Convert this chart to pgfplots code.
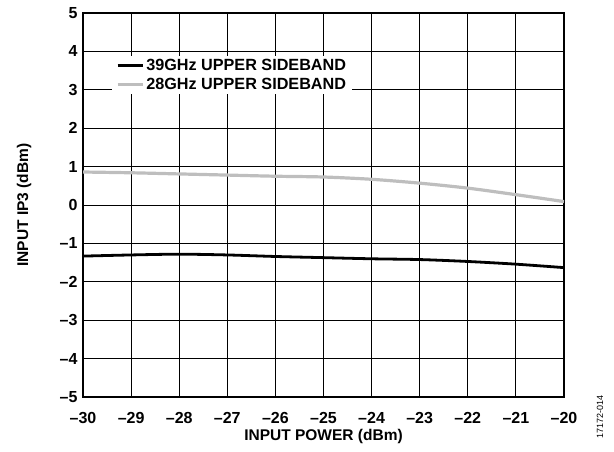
\documentclass[border=0pt]{standalone}
\usepackage{pgfplots}
\pgfplotsset{compat=1.18}
\usepackage{fontspec}
\setmainfont{Liberation Sans}
\definecolor{lgrey}{RGB}{190,190,190}
\begin{document}
\begin{tikzpicture}
\begin{axis}[
  scale only axis, width=481pt, height=384pt,
  xmin=-30, xmax=-20, ymin=-5, ymax=5,
  clip=false,
  xtick={-30,-29,-28,-27,-26,-25,-24,-23,-22,-21,-20},
  ytick={-5,-4,-3,-2,-1,0,1,2,3,4,5},
  xticklabels={–30,–29,–28,–27,–26,–25,–24,–23,–22,–21,–20},
  yticklabels={–5,–4,–3,–2,–1,0,1,2,3,4,5},
  grid=major,
  major grid style={black, line width=0.9pt},
  axis line style={black, line width=1.4pt},
  tick style={draw=none},
  tick label style={font=\fontsize{16}{16}\selectfont\bfseries},
  xticklabel style={yshift=-12pt},
  yticklabel style={xshift=-2pt},
  xlabel={INPUT POWER (dBm)}, ylabel={INPUT IP3 (dBm)},
  label style={font=\fontsize{15.5}{15.5}\selectfont\bfseries},
  xlabel style={at={(axis description cs:0.5,-0.104)}, anchor=center},
  ylabel style={at={(axis description cs:-0.1227,0.5)}, anchor=center},
  legend style={at={(rel axis cs:0.060,0.888)}, anchor=north west,
    draw=none, fill=white, font=\fontsize{16.2}{16.2}\selectfont\bfseries,
    inner xsep=4pt, inner ysep=1pt, row sep=1.8pt,
    /tikz/every odd column/.append style={column sep=0pt}},
  legend cell align=left,
  legend image code/.code={\draw[#1] (0pt,0pt) -- (25pt,0pt);},
]
\addplot[black, line width=2.8pt, smooth] coordinates {
(-30,-1.33) (-29,-1.30) (-28,-1.28) (-27,-1.30) (-26,-1.34) (-25,-1.37)
(-24,-1.40) (-23,-1.42) (-22,-1.47) (-21,-1.54) (-20,-1.63)};
\addlegendentry{39GHz UPPER SIDEBAND}
\addplot[lgrey, line width=3.2pt, smooth] coordinates {
(-30,0.86) (-29,0.84) (-28,0.81) (-27,0.78) (-26,0.75) (-25,0.73)
(-24,0.67) (-23,0.57) (-22,0.44) (-21,0.27) (-20,0.09)};
\addlegendentry{28GHz UPPER SIDEBAND}
\node[rotate=90, font=\fontsize{9}{9}\selectfont] at (rel axis cs:1.075,-0.052) {17172-014};
\coordinate (bl) at (rel axis cs:-0.1726,-0.143);
\coordinate (tr) at (rel axis cs:1.104,1.034);
\end{axis}
\path (bl) rectangle (tr);
\end{tikzpicture}
\end{document}
